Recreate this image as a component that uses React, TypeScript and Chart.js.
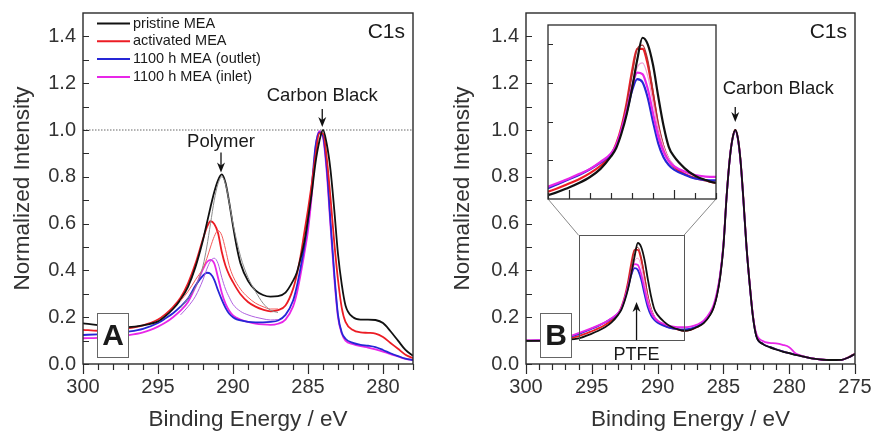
import { useEffect, useRef } from 'react';
import { Chart, registerables } from 'chart.js';

Chart.register(...registerables);

const FONT = "'Liberation Sans', Arial, Helvetica, sans-serif";
Chart.defaults.font.family = FONT;
Chart.defaults.color = '#333';

// ---- series identity -------------------------------------------------------
const SERIES_LABELS = ['pristine MEA', 'activated MEA', '1100 h MEA (outlet)', '1100 h MEA (inlet)'];
const SERIES_COLORS = ['#111111', '#ec1c24', '#2626d6', '#e826e8'];

// ---- axes --------------------------------------------------------------------
const X_TICKS_A = [300, 295, 290, 285, 280];
const X_TICKS_B = [300, 295, 290, 285, 280, 275];
const Y_TICKS = [0, 0.2, 0.4, 0.6, 0.8, 1.0, 1.2, 1.4];
const X_RANGE_A = [300, 278];
const X_RANGE_B = [300, 275];
const Y_RANGE = [0, 1.5];
const ZOOM_X = [296, 288];
const ZOOM_Y = [0.1, 0.55];

// ---- panel A: C1s spectra (binding energy in eV, normalized intensity) ------
const ENERGY_A = [300, 299, 298, 297, 296, 295, 294.5, 294, 293.5, 293, 292.5, 292, 291.75, 291.5, 291.25,
  291, 290.75, 290.5, 290.25, 290, 289.75, 289.5, 289, 288.5, 288, 287.5, 287, 286.5, 286, 285.75,
  285.5, 285.25, 285, 284.75, 284.5, 284.25, 284, 283.75, 283.5, 283.25, 283, 282.75, 282.5, 282, 281.5,
  281, 280.5, 280, 279.5, 279, 278.5, 278];
const PRISTINE_A = [0.174, 0.166, 0.16, 0.158, 0.165, 0.182, 0.205, 0.235, 0.275, 0.33, 0.415, 0.53, 0.6, 0.67, 0.735,
  0.785, 0.81, 0.775, 0.69, 0.59, 0.5, 0.43, 0.355, 0.315, 0.295, 0.288, 0.29, 0.305, 0.355, 0.39,
  0.45, 0.52, 0.62, 0.73, 0.86, 0.95, 1.0, 0.94, 0.83, 0.66, 0.47, 0.34, 0.25, 0.2, 0.19,
  0.19, 0.188, 0.175, 0.14, 0.1, 0.06, 0.035];
const ACTIVATED_A = [0.146, 0.142, 0.145, 0.152, 0.165, 0.19, 0.213, 0.243, 0.283, 0.345, 0.43, 0.535, 0.583, 0.61, 0.598,
  0.56, 0.48, 0.42, 0.38, 0.35, 0.322, 0.298, 0.265, 0.245, 0.232, 0.225, 0.23, 0.25, 0.32, 0.38,
  0.46, 0.56, 0.66, 0.77, 0.89, 0.985, 0.985, 0.88, 0.71, 0.52, 0.36, 0.24, 0.18, 0.145, 0.135,
  0.133, 0.13, 0.115, 0.09, 0.065, 0.04, 0.025];
const OUTLET_A = [0.124, 0.127, 0.131, 0.138, 0.15, 0.175, 0.195, 0.217, 0.245, 0.28, 0.335, 0.378, 0.39, 0.385, 0.36,
  0.315, 0.275, 0.24, 0.215, 0.2, 0.191, 0.186, 0.18, 0.178, 0.178, 0.18, 0.186, 0.21, 0.27, 0.33,
  0.41, 0.5, 0.61, 0.76, 0.93, 0.99, 0.975, 0.84, 0.61, 0.39, 0.21, 0.135, 0.108, 0.09, 0.082,
  0.078, 0.072, 0.06, 0.046, 0.034, 0.023, 0.017];
const INLET_A = [0.11, 0.112, 0.117, 0.123, 0.135, 0.16, 0.177, 0.2, 0.228, 0.265, 0.33, 0.405, 0.435, 0.445, 0.43,
  0.37, 0.305, 0.258, 0.228, 0.208, 0.197, 0.19, 0.18, 0.173, 0.169, 0.167, 0.172, 0.19, 0.245, 0.3,
  0.38, 0.47, 0.57, 0.72, 0.92, 0.995, 0.97, 0.82, 0.59, 0.37, 0.2, 0.13, 0.1, 0.085, 0.076,
  0.07, 0.062, 0.053, 0.042, 0.032, 0.022, 0.017];
// repeat scans around the polymer peak (thin traces)
const ENERGY_REPEAT_A = [293.5, 293, 292.5, 292, 291.75, 291.5, 291.25, 291, 290.75, 290.5, 290.25, 290, 289.5, 289, 288.5, 288, 287.5, 287];
const PRISTINE_REPEAT_A = [0.24, 0.28, 0.33, 0.42, 0.5, 0.6, 0.7, 0.77, 0.8, 0.77, 0.69, 0.6, 0.46, 0.37, 0.31, 0.26, 0.23, 0.22];
const ACTIVATED_REPEAT_A = [0.27, 0.31, 0.36, 0.41, 0.45, 0.5, 0.545, 0.57, 0.55, 0.49, 0.42, 0.375, 0.32, 0.285, 0.26, 0.245, 0.235, 0.235];
const INLET_REPEAT_A = [0.21, 0.245, 0.29, 0.36, 0.405, 0.44, 0.452, 0.43, 0.37, 0.32, 0.285, 0.255, 0.225, 0.21, 0.2, 0.193, 0.188, 0.19];

// ---- panel B ---------------------------------------------------------------------
const ENERGY_B = [300, 299, 298, 297, 296, 295, 294.5, 294, 293.5, 293, 292.75, 292.5, 292.25, 292, 291.75,
  291.5, 291.25, 291, 290.75, 290.5, 290.25, 290, 289.5, 289, 288.5, 288, 287.5, 287, 286.5, 286,
  285.75, 285.5, 285.25, 285, 284.75, 284.5, 284.3, 284.1, 283.9, 283.7, 283.5, 283.25, 283, 282.75, 282.5,
  282, 281.5, 281, 280.5, 280, 279.5, 279, 278, 277, 276, 275.5, 275];
const PRISTINE_B = [0.099, 0.099, 0.1, 0.103, 0.11, 0.13, 0.142, 0.157, 0.178, 0.21, 0.232, 0.27, 0.32, 0.385, 0.46,
  0.517, 0.5, 0.447, 0.365, 0.29, 0.235, 0.21, 0.18, 0.16, 0.149, 0.142, 0.146, 0.158, 0.175, 0.21,
  0.24, 0.29, 0.37, 0.5, 0.72, 0.885, 0.965, 1.0, 0.965, 0.87, 0.72, 0.505, 0.34, 0.2, 0.12,
  0.085, 0.072, 0.062, 0.053, 0.046, 0.039, 0.033, 0.022, 0.017, 0.018, 0.028, 0.043];
const ACTIVATED_B = [0.1, 0.1, 0.101, 0.106, 0.119, 0.14, 0.152, 0.167, 0.186, 0.215, 0.243, 0.287, 0.35, 0.43, 0.488,
  0.488, 0.448, 0.372, 0.287, 0.233, 0.2, 0.183, 0.165, 0.154, 0.148, 0.142, 0.146, 0.158, 0.176, 0.212,
  0.242, 0.293, 0.373, 0.505, 0.722, 0.888, 0.967, 1.0, 0.966, 0.872, 0.722, 0.507, 0.342, 0.202, 0.121,
  0.086, 0.073, 0.063, 0.054, 0.046, 0.039, 0.033, 0.022, 0.017, 0.018, 0.029, 0.044];
const OUTLET_B = [0.1, 0.101, 0.104, 0.112, 0.128, 0.151, 0.163, 0.177, 0.194, 0.216, 0.237, 0.277, 0.325, 0.38, 0.41,
  0.402, 0.362, 0.3, 0.244, 0.208, 0.188, 0.176, 0.163, 0.153, 0.149, 0.148, 0.151, 0.161, 0.179, 0.214,
  0.244, 0.295, 0.375, 0.505, 0.72, 0.886, 0.964, 0.997, 0.962, 0.868, 0.716, 0.503, 0.338, 0.2, 0.12,
  0.086, 0.073, 0.063, 0.054, 0.046, 0.039, 0.033, 0.022, 0.017, 0.018, 0.028, 0.043];
const INLET_B = [0.101, 0.102, 0.105, 0.114, 0.132, 0.153, 0.165, 0.178, 0.196, 0.218, 0.24, 0.28, 0.33, 0.39, 0.427,
  0.423, 0.385, 0.322, 0.262, 0.222, 0.198, 0.185, 0.171, 0.162, 0.158, 0.157, 0.16, 0.168, 0.185, 0.222,
  0.252, 0.305, 0.382, 0.51, 0.722, 0.886, 0.964, 0.997, 0.962, 0.868, 0.716, 0.505, 0.34, 0.205, 0.13,
  0.098, 0.09, 0.088, 0.082, 0.072, 0.045, 0.034, 0.022, 0.017, 0.018, 0.028, 0.043];
const ENERGY_REPEAT_B = [293, 292.75, 292.5, 292.25, 292, 291.75, 291.5, 291.25, 291, 290.75, 290.5, 290.25, 290];
const ACTIVATED_REPEAT_B = [0.213, 0.24, 0.283, 0.345, 0.42, 0.488, 0.498, 0.46, 0.38, 0.298, 0.24, 0.205, 0.186];
const INLET_REPEAT_B = [0.216, 0.238, 0.28, 0.33, 0.39, 0.44, 0.452, 0.418, 0.35, 0.283, 0.235, 0.205, 0.188];

// ---- page layout (px) ----------------------------------------------------------
const PANEL_B_LEFT = 440;
const INSET = { left: 548, top: 25, right: 716, bottom: 199 };

type Pt = { x: number; y: number };

function series(xs: number[], ys: number[], color: string, width: number) {
  return {
    data: xs.map((x, i): Pt => ({ x, y: ys[i] })),
    borderColor: color,
    backgroundColor: color,
    borderWidth: width,
    pointRadius: 0,
    fill: false,
    cubicInterpolationMode: 'monotone' as const,
  };
}

function font(size: number, bold = false) {
  return `${bold ? 'bold ' : ''}${size}px ${FONT}`;
}

function arrow(ctx: CanvasRenderingContext2D, x: number, tail: number, tip: number) {
  const dir = Math.sign(tip - tail);
  ctx.save();
  ctx.strokeStyle = '#111';
  ctx.fillStyle = '#111';
  ctx.lineWidth = 1.3;
  ctx.beginPath();
  ctx.moveTo(x, tail);
  ctx.lineTo(x, tip - dir * 5);
  ctx.stroke();
  ctx.beginPath();
  ctx.moveTo(x, tip);
  ctx.lineTo(x - 4, tip - dir * 10);
  ctx.lineTo(x, tip - dir * 7);
  ctx.lineTo(x + 4, tip - dir * 10);
  ctx.closePath();
  ctx.fill();
  ctx.restore();
}

function label(ctx: CanvasRenderingContext2D, text: string, x: number, y: number, size: number, align: CanvasTextAlign = 'center', bold = false) {
  ctx.save();
  ctx.font = font(size, bold);
  ctx.fillStyle = '#1a1a1a';
  ctx.textAlign = align;
  ctx.textBaseline = 'middle';
  ctx.fillText(text, x, y);
  ctx.restore();
}

type Annot = (ctx: CanvasRenderingContext2D, x: any, y: any, a: any) => void;

function panelPlugin(opts: { refLine?: number; legend: boolean; letter: string; annotate: Annot }) {
  return {
    id: 'panelDecor',
    beforeDatasetsDraw(chart: any) {
      const { ctx, chartArea: a, scales } = chart;
      if (opts.refLine != null) {
        const py = scales.y.getPixelForValue(opts.refLine);
        ctx.save();
        ctx.strokeStyle = '#666';
        ctx.lineWidth = 1;
        ctx.setLineDash([1.5, 1.5]);
        ctx.beginPath();
        ctx.moveTo(a.left, py);
        ctx.lineTo(a.right, py);
        ctx.stroke();
        ctx.restore();
      }
    },
    afterDatasetsDraw(chart: any) {
      const { ctx, chartArea: a, scales } = chart;
      const { x, y } = scales;
      ctx.save();
      ctx.strokeStyle = '#2a2a2a';
      ctx.lineWidth = 1.4;
      ctx.strokeRect(a.left, a.top, a.right - a.left, a.bottom - a.top);
      // y ticks: every 0.1, pointing into the plot
      ctx.lineWidth = 1.2;
      ctx.beginPath();
      for (let k = 0; k <= 14; k++) {
        const py = Math.round(y.getPixelForValue(k / 10)) + 0.5;
        ctx.moveTo(a.left, py);
        ctx.lineTo(a.left + 6, py);
      }
      // x ticks: every 1 eV, pointing outward, longer at multiples of 5
      const lo = Math.ceil(Math.min(x.min, x.max));
      const hi = Math.floor(Math.max(x.min, x.max));
      for (let v = lo; v <= hi; v++) {
        const px = Math.round(x.getPixelForValue(v)) + 0.5;
        ctx.moveTo(px, a.bottom);
        ctx.lineTo(px, a.bottom + (v % 5 === 0 ? 10 : 6));
      }
      ctx.stroke();
      ctx.restore();

      if (opts.legend) {
        for (let i = 0; i < SERIES_LABELS.length; i++) {
          const ry = a.top + 10.5 + i * 17.8;
          ctx.save();
          ctx.strokeStyle = SERIES_COLORS[i];
          ctx.lineWidth = 2;
          ctx.beginPath();
          ctx.moveTo(a.left + 14, ry);
          ctx.lineTo(a.left + 47, ry);
          ctx.stroke();
          ctx.restore();
          label(ctx, SERIES_LABELS[i], a.left + 50, ry, 14.5, 'left');
        }
      }

      label(ctx, 'C1s', a.right - 8, a.top + 19, 21, 'right');

      // panel letter in a white box that hides the traces behind it
      ctx.save();
      ctx.fillStyle = '#fff';
      ctx.fillRect(a.left + 14.5, a.bottom - 50.5, 31, 44);
      ctx.strokeStyle = '#666';
      ctx.lineWidth = 1;
      ctx.strokeRect(a.left + 14.5, a.bottom - 50.5, 31, 44);
      ctx.restore();
      label(ctx, opts.letter, a.left + 30, a.bottom - 27, 30, 'center', true);

      opts.annotate(ctx, x, y, a);
    },
  };
}

function axisOptions(xRange: number[], xTicks: number[], yWidth: number) {
  return {
    x: {
      type: 'linear' as const,
      min: xRange[1],
      max: xRange[0],
      reverse: true,
      afterBuildTicks: (s: any) => { s.ticks = xTicks.map((v) => ({ value: v })); },
      afterFit: (s: any) => { s.height = 72; s.paddingLeft = 0; s.paddingRight = 0; },
      grid: { display: false, drawTicks: false },
      border: { display: false },
      ticks: { padding: 11, color: '#333', font: { size: 20 }, maxRotation: 0, autoSkip: false, callback: (v: any) => String(v) },
      title: { display: true, text: 'Binding Energy / eV', color: '#333', font: { size: 22.5 }, padding: { top: 0, bottom: 3 } },
    },
    y: {
      type: 'linear' as const,
      min: Y_RANGE[0],
      max: Y_RANGE[1],
      afterBuildTicks: (s: any) => { s.ticks = Y_TICKS.map((v) => ({ value: v })); },
      afterFit: (s: any) => { s.width = yWidth; s.paddingTop = 0; s.paddingBottom = 0; },
      grid: { display: false, drawTicks: false },
      border: { display: false },
      ticks: { padding: 7, color: '#333', font: { size: 20 }, callback: (v: any) => Number(v).toFixed(1) },
      title: { display: true, text: 'Normalized Intensity', color: '#333', font: { size: 22.5 }, padding: { top: 9, bottom: 0 } },
    },
  };
}

const common = {
  animation: false as const,
  responsive: false,
  devicePixelRatio: 1,
  events: [] as any[],
  plugins: { legend: { display: false }, tooltip: { enabled: false } },
};

function buildPanelA(canvas: HTMLCanvasElement) {
  const annotate: Annot = (ctx, x, y) => {
    const cbx = x.getPixelForValue(284.05), cby = y.getPixelForValue(1.0);
    arrow(ctx, cbx, cby - 21, cby - 3);
    label(ctx, 'Carbon Black', cbx, cby - 34, 18.5);
    const px = x.getPixelForValue(290.8), py = y.getPixelForValue(0.81);
    arrow(ctx, px, py - 22, py - 2);
    label(ctx, 'Polymer', px, py - 33, 18.5);
  };
  return new Chart(canvas, {
    type: 'line',
    data: {
      datasets: [
        series(ENERGY_REPEAT_A, PRISTINE_REPEAT_A, '#8c8c8c', 1),
        series(ENERGY_REPEAT_A, ACTIVATED_REPEAT_A, '#f25a5a', 1),
        series(ENERGY_REPEAT_A, INLET_REPEAT_A, '#b060e0', 1),
        series(ENERGY_A, PRISTINE_A, SERIES_COLORS[0], 1.8),
        series(ENERGY_A, ACTIVATED_A, SERIES_COLORS[1], 1.8),
        series(ENERGY_A, OUTLET_A, SERIES_COLORS[2], 1.8),
        series(ENERGY_A, INLET_A, SERIES_COLORS[3], 1.8),
      ],
    },
    options: {
      ...common,
      layout: { padding: { left: 0, top: 13, right: 27, bottom: 0 } },
      scales: axisOptions(X_RANGE_A, X_TICKS_A, 83),
    } as any,
    plugins: [panelPlugin({ refLine: 1.0, legend: true, letter: 'A', annotate })],
  });
}

function bDatasets(width: number, thin: number) {
  return [
    series(ENERGY_B, PRISTINE_B, SERIES_COLORS[0], width),
    series(ENERGY_B, INLET_B, SERIES_COLORS[3], width),
    series(ENERGY_B, OUTLET_B, SERIES_COLORS[2], width),
    series(ENERGY_REPEAT_B, INLET_REPEAT_B, '#f0a0d8', thin),
    series(ENERGY_REPEAT_B, ACTIVATED_REPEAT_B, '#a83434', thin),
    series(ENERGY_B, ACTIVATED_B, SERIES_COLORS[1], width),
  ];
}

function buildPanelB(canvas: HTMLCanvasElement) {
  const annotate: Annot = (ctx, x, y, a) => {
    const cbx = x.getPixelForValue(284.1), cby = y.getPixelForValue(1.0);
    arrow(ctx, cbx, cby - 23, cby - 8);
    label(ctx, 'Carbon Black', cbx + 43, cby - 41, 18.5);
    const px = x.getPixelForValue(291.6);
    arrow(ctx, px, a.bottom - 24, y.getPixelForValue(0.265));
    label(ctx, 'PTFE', px, a.bottom - 9, 18);

    // magnified region and its link to the inset
    const x0 = x.getPixelForValue(ZOOM_X[0]), x1 = x.getPixelForValue(ZOOM_X[1]);
    const yTop = y.getPixelForValue(ZOOM_Y[1]), yBot = y.getPixelForValue(ZOOM_Y[0]);
    ctx.save();
    ctx.strokeStyle = '#555';
    ctx.lineWidth = 1;
    ctx.strokeRect(Math.round(x0) + 0.5, Math.round(yTop) + 0.5, Math.round(x1 - x0), Math.round(yBot - yTop));
    ctx.strokeStyle = '#888';
    ctx.beginPath();
    ctx.moveTo(INSET.left - PANEL_B_LEFT, INSET.bottom);
    ctx.lineTo(x0, yTop);
    ctx.moveTo(INSET.right - PANEL_B_LEFT, INSET.bottom);
    ctx.lineTo(x1, yTop);
    ctx.stroke();
    ctx.restore();
  };
  return new Chart(canvas, {
    type: 'line',
    data: { datasets: bDatasets(1.8, 1) },
    options: {
      ...common,
      layout: { padding: { left: 0, top: 13, right: 19, bottom: 0 } },
      scales: axisOptions(X_RANGE_B, X_TICKS_B, 86),
    } as any,
    plugins: [panelPlugin({ legend: false, letter: 'B', annotate })],
  });
}

const insetPlugin = {
  id: 'insetDecor',
  beforeDatasetsDraw(chart: any) {
    const { ctx, chartArea: a } = chart;
    ctx.save();
    ctx.fillStyle = '#fff';
    ctx.fillRect(a.left, a.top, a.right - a.left, a.bottom - a.top);
    ctx.restore();
  },
  afterDatasetsDraw(chart: any) {
    const { ctx, chartArea: a, scales: { x, y } } = chart;
    ctx.save();
    ctx.strokeStyle = '#2a2a2a';
    ctx.lineWidth = 1.3;
    ctx.strokeRect(a.left, a.top, a.right - a.left, a.bottom - a.top);
    ctx.lineWidth = 1.2;
    ctx.beginPath();
    for (let v = ZOOM_X[1]; v <= ZOOM_X[0]; v++) {
      const px = Math.round(x.getPixelForValue(v)) + 0.5;
      ctx.moveTo(px, a.bottom);
      ctx.lineTo(px, a.bottom - (v % 5 === 0 ? 9 : 6));
    }
    for (let k = 2; k <= 5; k++) {
      const py = Math.round(y.getPixelForValue(k / 10)) + 0.5;
      ctx.moveTo(a.left, py);
      ctx.lineTo(a.left + 5, py);
    }
    ctx.stroke();
    ctx.restore();
  },
};

function buildInset(canvas: HTMLCanvasElement) {
  return new Chart(canvas, {
    type: 'line',
    data: { datasets: bDatasets(2.2, 1.2) },
    options: {
      ...common,
      layout: { padding: { left: 8, top: 5, right: 9, bottom: 11 } },
      scales: {
        x: { type: 'linear', min: ZOOM_X[1], max: ZOOM_X[0], reverse: true, display: false },
        y: { type: 'linear', min: ZOOM_Y[0], max: ZOOM_Y[1], display: false },
      },
    } as any,
    plugins: [insetPlugin],
  });
}

export default function App() {
  const refA = useRef<HTMLCanvasElement>(null);
  const refB = useRef<HTMLCanvasElement>(null);
  const refInset = useRef<HTMLCanvasElement>(null);

  useEffect(() => {
    const charts = [
      buildPanelA(refA.current!),
      buildPanelB(refB.current!),
      buildInset(refInset.current!),
    ];
    return () => charts.forEach((c) => c.destroy());
  }, []);

  const insetW = INSET.right - INSET.left + 17;
  const insetH = INSET.bottom - INSET.top + 16;

  return (
    <div style={{ position: 'fixed', left: 0, top: 0, width: 874, height: 436, background: '#fff', overflow: 'hidden' }}>
      <canvas ref={refA} width={440} height={436} style={{ position: 'absolute', left: 0, top: 0 }} />
      <canvas ref={refB} width={434} height={436} style={{ position: 'absolute', left: PANEL_B_LEFT, top: 0 }} />
      <canvas
        ref={refInset}
        width={insetW}
        height={insetH}
        style={{ position: 'absolute', left: INSET.left - 8, top: INSET.top - 5 }}
      />
    </div>
  );
}
